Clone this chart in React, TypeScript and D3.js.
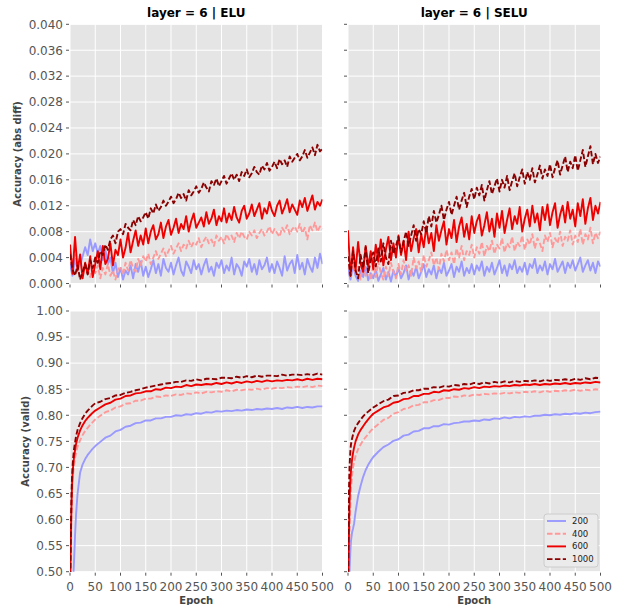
import React from 'react';
import * as d3 from 'd3';

// ---------- data ----------
const SERIES = ['200', '400', '600', '1000'];
const EPOCH_TICKS = [0, 50, 100, 150, 200, 250, 300, 350, 400, 450, 500];
const DIFF_TICKS = [0, 0.004, 0.008, 0.012, 0.016, 0.02, 0.024, 0.028, 0.032, 0.036, 0.04];
const VALID_TICKS = [0.5, 0.55, 0.6, 0.65, 0.7, 0.75, 0.8, 0.85, 0.9, 0.95, 1.0];

// epochs of the abs-diff series (every 5 epochs)
const EPOCHS_DIFF = d3.range(0, 501, 5);
// epochs of the validation accuracy series
const EPOCHS_VALID = [0, 1, 2, 3, 4, 5, 6, 8, 10, 12, 15, 20, 25, 30, 35, 40, 45, 50,
  60, 70, 80, 90, 100, 110, 120, 130, 140, 150, 160, 170, 180, 190, 200, 210, 220, 230, 240, 250,
  260, 270, 280, 290, 300, 310, 320, 330, 340, 350, 360, 370, 380, 390, 400, 410, 420, 430, 440, 450,
  460, 470, 480, 490, 500];

const ELU_DIFF_200 = [
 0.0030,0.0012,0.0038,0.0022,0.0028,0.0042,0.0056,0.0044,0.0068,0.0050,
 0.0062,0.0046,0.0058,0.0036,0.0052,0.0030,0.0040,0.0016,0.0032,0.0010,
 0.0024,0.0006,0.0020,0.0014,0.0028,0.0008,0.0030,0.0018,0.0034,0.0012,
 0.0026,0.0010,0.0022,0.0036,0.0016,0.0030,0.0012,0.0038,0.0024,0.0018,
 0.0032,0.0014,0.0028,0.0040,0.0020,0.0012,0.0034,0.0026,0.0016,0.0036,
 0.0022,0.0030,0.0014,0.0028,0.0038,0.0018,0.0026,0.0012,0.0032,0.0024,
 0.0036,0.0016,0.0028,0.0020,0.0040,0.0014,0.0030,0.0024,0.0012,0.0034,
 0.0026,0.0038,0.0018,0.0030,0.0014,0.0036,0.0022,0.0028,0.0040,0.0018,
 0.0030,0.0016,0.0034,0.0024,0.0012,0.0042,0.0020,0.0030,0.0036,0.0016,
 0.0044,0.0022,0.0032,0.0014,0.0038,0.0026,0.0018,0.0040,0.0024,0.0046,
 0.0030];
const ELU_DIFF_400 = [
 0.0050,0.0032,0.0044,0.0018,0.0036,0.0014,0.0030,0.0022,0.0010,0.0026,
 0.0016,0.0028,0.0008,0.0024,0.0014,0.0030,0.0012,0.0020,0.0006,0.0022,
 0.0026,0.0014,0.0032,0.0020,0.0036,0.0024,0.0018,0.0038,0.0028,0.0042,
 0.0034,0.0046,0.0030,0.0040,0.0050,0.0038,0.0046,0.0054,0.0042,0.0050,
 0.0058,0.0046,0.0054,0.0062,0.0050,0.0060,0.0054,0.0066,0.0056,0.0064,
 0.0060,0.0070,0.0056,0.0066,0.0072,0.0062,0.0068,0.0058,0.0074,0.0066,
 0.0072,0.0062,0.0076,0.0068,0.0074,0.0064,0.0078,0.0070,0.0080,0.0072,
 0.0068,0.0080,0.0074,0.0082,0.0070,0.0078,0.0084,0.0074,0.0080,0.0088,
 0.0076,0.0084,0.0078,0.0072,0.0086,0.0080,0.0090,0.0076,0.0084,0.0088,
 0.0080,0.0092,0.0078,0.0086,0.0068,0.0090,0.0082,0.0094,0.0080,0.0088,
 0.0084];
const ELU_DIFF_600 = [
 0.0060,0.0015,0.0072,0.0020,0.0045,0.0008,0.0032,0.0015,0.0042,0.0010,
 0.0030,0.0050,0.0022,0.0058,0.0030,0.0038,0.0062,0.0028,0.0052,0.0044,
 0.0068,0.0040,0.0055,0.0078,0.0048,0.0066,0.0082,0.0058,0.0074,0.0060,
 0.0085,0.0062,0.0080,0.0090,0.0068,0.0076,0.0094,0.0070,0.0088,0.0098,
 0.0075,0.0086,0.0100,0.0078,0.0092,0.0084,0.0104,0.0080,0.0096,0.0108,
 0.0086,0.0094,0.0102,0.0088,0.0110,0.0092,0.0100,0.0114,0.0090,0.0104,
 0.0096,0.0116,0.0094,0.0108,0.0098,0.0118,0.0102,0.0094,0.0112,0.0120,
 0.0100,0.0108,0.0122,0.0104,0.0114,0.0124,0.0100,0.0116,0.0108,0.0126,
 0.0112,0.0104,0.0120,0.0128,0.0108,0.0118,0.0130,0.0110,0.0122,0.0114,
 0.0106,0.0128,0.0118,0.0132,0.0112,0.0124,0.0136,0.0114,0.0126,0.0120,
 0.0130];
const ELU_DIFF_1000 = [
 0.0045,0.0022,0.0012,0.0028,0.0006,0.0018,0.0030,0.0014,0.0036,0.0024,
 0.0040,0.0032,0.0050,0.0044,0.0060,0.0052,0.0068,0.0074,0.0062,0.0080,
 0.0084,0.0076,0.0092,0.0086,0.0082,0.0098,0.0090,0.0104,0.0096,0.0102,
 0.0110,0.0100,0.0116,0.0108,0.0122,0.0112,0.0118,0.0128,0.0120,0.0126,
 0.0134,0.0124,0.0130,0.0140,0.0132,0.0138,0.0128,0.0144,0.0136,0.0142,
 0.0150,0.0140,0.0146,0.0156,0.0148,0.0142,0.0158,0.0152,0.0162,0.0150,
 0.0158,0.0166,0.0154,0.0162,0.0170,0.0160,0.0168,0.0158,0.0172,0.0166,
 0.0176,0.0164,0.0170,0.0180,0.0172,0.0168,0.0182,0.0176,0.0186,0.0174,
 0.0180,0.0188,0.0178,0.0192,0.0184,0.0190,0.0180,0.0196,0.0188,0.0194,
 0.0200,0.0190,0.0196,0.0206,0.0194,0.0202,0.0210,0.0198,0.0214,0.0204,
 0.0208];

const SELU_DIFF_200 = [
 0.0022,0.0006,0.0028,0.0012,0.0004,0.0020,0.0010,0.0026,0.0005,0.0016,
 0.0008,0.0022,0.0004,0.0014,0.0024,0.0006,0.0018,0.0003,0.0020,0.0010,
 0.0024,0.0008,0.0016,0.0028,0.0006,0.0020,0.0012,0.0026,0.0008,0.0018,
 0.0030,0.0010,0.0022,0.0014,0.0028,0.0008,0.0024,0.0016,0.0032,0.0012,
 0.0020,0.0030,0.0010,0.0026,0.0018,0.0034,0.0012,0.0024,0.0016,0.0030,
 0.0014,0.0028,0.0020,0.0034,0.0012,0.0026,0.0018,0.0032,0.0014,0.0024,
 0.0036,0.0016,0.0028,0.0012,0.0030,0.0022,0.0036,0.0016,0.0026,0.0018,
 0.0032,0.0014,0.0030,0.0024,0.0038,0.0016,0.0028,0.0020,0.0034,0.0014,
 0.0030,0.0022,0.0038,0.0018,0.0026,0.0034,0.0016,0.0032,0.0024,0.0036,
 0.0020,0.0030,0.0040,0.0018,0.0028,0.0036,0.0020,0.0032,0.0016,0.0034,
 0.0026];
const SELU_DIFF_400 = [
 0.0030,0.0008,0.0036,0.0014,0.0026,0.0006,0.0032,0.0012,0.0022,0.0005,
 0.0028,0.0010,0.0034,0.0016,0.0006,0.0026,0.0012,0.0032,0.0018,0.0008,
 0.0030,0.0014,0.0036,0.0020,0.0028,0.0012,0.0040,0.0024,0.0034,0.0018,
 0.0044,0.0026,0.0036,0.0048,0.0028,0.0040,0.0022,0.0046,0.0034,0.0052,
 0.0036,0.0048,0.0030,0.0054,0.0040,0.0058,0.0036,0.0050,0.0044,0.0060,
 0.0040,0.0056,0.0046,0.0064,0.0042,0.0058,0.0050,0.0066,0.0046,0.0060,
 0.0054,0.0070,0.0048,0.0062,0.0056,0.0072,0.0050,0.0064,0.0058,0.0074,
 0.0052,0.0068,0.0060,0.0076,0.0054,0.0070,0.0062,0.0050,0.0074,0.0064,
 0.0078,0.0056,0.0070,0.0062,0.0080,0.0058,0.0072,0.0066,0.0082,0.0060,
 0.0074,0.0064,0.0084,0.0060,0.0076,0.0068,0.0086,0.0062,0.0078,0.0070,
 0.0080];
const SELU_DIFF_600 = [
 0.0082,0.0012,0.0056,0.0020,0.0064,0.0030,0.0018,0.0058,0.0026,0.0050,
 0.0022,0.0060,0.0034,0.0068,0.0028,0.0052,0.0072,0.0036,0.0062,0.0040,
 0.0074,0.0044,0.0066,0.0036,0.0080,0.0050,0.0070,0.0084,0.0048,0.0076,
 0.0056,0.0088,0.0062,0.0078,0.0050,0.0090,0.0066,0.0082,0.0096,0.0060,
 0.0084,0.0070,0.0098,0.0064,0.0088,0.0102,0.0072,0.0092,0.0068,0.0104,
 0.0078,0.0096,0.0106,0.0074,0.0090,0.0110,0.0080,0.0100,0.0072,0.0108,
 0.0086,0.0112,0.0078,0.0098,0.0116,0.0084,0.0104,0.0092,0.0118,0.0080,
 0.0100,0.0114,0.0088,0.0120,0.0094,0.0108,0.0082,0.0118,0.0098,0.0122,
 0.0090,0.0110,0.0124,0.0086,0.0106,0.0120,0.0094,0.0126,0.0100,0.0114,
 0.0088,0.0124,0.0104,0.0130,0.0092,0.0116,0.0132,0.0098,0.0120,0.0108,
 0.0126];
const SELU_DIFF_1000 = [
 0.0042,0.0012,0.0050,0.0020,0.0008,0.0044,0.0024,0.0056,0.0016,0.0036,
 0.0048,0.0026,0.0054,0.0034,0.0062,0.0040,0.0030,0.0066,0.0046,0.0058,
 0.0072,0.0048,0.0064,0.0080,0.0058,0.0074,0.0090,0.0066,0.0084,0.0076,
 0.0096,0.0078,0.0104,0.0088,0.0112,0.0094,0.0106,0.0120,0.0098,0.0114,
 0.0126,0.0106,0.0120,0.0134,0.0114,0.0128,0.0140,0.0118,0.0134,0.0146,
 0.0130,0.0148,0.0136,0.0152,0.0128,0.0144,0.0158,0.0138,0.0150,0.0162,
 0.0142,0.0160,0.0148,0.0166,0.0144,0.0158,0.0170,0.0150,0.0164,0.0176,
 0.0154,0.0172,0.0160,0.0178,0.0156,0.0168,0.0182,0.0162,0.0176,0.0166,
 0.0184,0.0164,0.0178,0.0190,0.0168,0.0182,0.0196,0.0172,0.0188,0.0178,
 0.0198,0.0174,0.0190,0.0206,0.0180,0.0196,0.0212,0.0184,0.0200,0.0186,
 0.0196];

const ELU_VALID_200 = [0.30,0.35,0.39,0.42,0.44,0.46,0.48,0.52,0.57,0.61,0.65,0.69,0.706,0.716,0.724,0.730,0.736,0.741,
 0.749,0.757,0.761,0.769,0.772,0.778,0.780,0.785,0.786,0.790,
 0.790,0.794,0.794,0.797,0.797,0.800,0.799,0.802,0.801,0.804,
 0.803,0.806,0.805,0.808,0.807,0.809,0.808,0.810,0.809,0.811,
 0.810,0.812,0.811,0.813,0.812,0.814,0.812,0.815,0.814,0.816,
 0.814,0.816,0.815,0.817,0.817];
const ELU_VALID_400 = [0.40,0.50,0.56,0.61,0.645,0.67,0.685,0.705,0.718,0.728,0.740,0.752,0.762,0.770,0.776,0.782,0.787,0.792,
 0.799,0.806,0.809,0.815,0.817,0.822,0.823,0.828,0.828,0.832,
 0.832,0.836,0.835,0.838,0.837,0.840,0.839,0.842,0.841,0.844,
 0.842,0.845,0.844,0.846,0.845,0.848,0.846,0.849,0.848,0.850,
 0.849,0.851,0.849,0.852,0.851,0.853,0.852,0.854,0.853,0.855,
 0.854,0.856,0.854,0.857,0.856];
const ELU_VALID_600 = [0.42,0.52,0.58,0.63,0.665,0.685,0.70,0.72,0.733,0.745,0.757,0.771,0.781,0.789,0.795,0.800,0.805,0.809,
 0.815,0.821,0.824,0.830,0.832,0.837,0.838,0.842,0.843,0.846,
 0.846,0.850,0.849,0.853,0.852,0.855,0.854,0.858,0.856,0.859,
 0.858,0.860,0.859,0.862,0.860,0.863,0.861,0.864,0.862,0.865,
 0.863,0.866,0.864,0.867,0.865,0.867,0.866,0.868,0.867,0.869,
 0.867,0.870,0.868,0.870,0.869];
const ELU_VALID_1000 = [0.40,0.52,0.60,0.65,0.68,0.70,0.715,0.735,0.748,0.760,0.772,0.785,0.795,0.803,0.809,0.814,0.819,0.823,
 0.826,0.831,0.833,0.838,0.839,0.843,0.845,0.848,0.850,0.853,
 0.855,0.857,0.859,0.861,0.862,0.864,0.864,0.867,0.866,0.869,
 0.867,0.870,0.870,0.869,0.872,0.872,0.871,0.874,0.872,0.875,
 0.873,0.876,0.874,0.876,0.876,0.875,0.878,0.876,0.878,0.878,
 0.877,0.879,0.877,0.880,0.878];

const SELU_VALID_200 = [0.35,0.42,0.47,0.50,0.525,0.545,0.56,0.575,0.583,0.592,0.615,0.645,0.665,0.682,0.695,0.705,0.713,0.720,
 0.730,0.739,0.744,0.751,0.754,0.761,0.763,0.769,0.770,0.775,
 0.775,0.779,0.779,0.783,0.782,0.785,0.786,0.788,0.788,0.790,
 0.789,0.792,0.791,0.794,0.793,0.796,0.794,0.797,0.796,0.798,
 0.797,0.799,0.799,0.801,0.800,0.802,0.801,0.803,0.802,0.804,
 0.803,0.805,0.804,0.806,0.807];
const SELU_VALID_400 = [0.38,0.46,0.52,0.57,0.61,0.64,0.66,0.685,0.70,0.71,0.722,0.735,0.744,0.752,0.758,0.764,0.770,0.775,
 0.783,0.791,0.795,0.803,0.806,0.812,0.814,0.819,0.820,0.825,
 0.825,0.829,0.829,0.833,0.833,0.836,0.835,0.838,0.837,0.840,
 0.839,0.841,0.840,0.842,0.841,0.843,0.842,0.844,0.843,0.845,
 0.844,0.846,0.844,0.847,0.845,0.847,0.846,0.848,0.847,0.849,
 0.847,0.849,0.848,0.850,0.849];
const SELU_VALID_600 = [0.40,0.50,0.58,0.63,0.66,0.68,0.695,0.715,0.728,0.738,0.750,0.763,0.772,0.779,0.786,0.792,0.798,0.803,
 0.809,0.815,0.818,0.824,0.826,0.831,0.832,0.837,0.837,0.841,
 0.841,0.845,0.844,0.848,0.847,0.850,0.849,0.852,0.851,0.854,
 0.852,0.855,0.854,0.856,0.855,0.857,0.856,0.858,0.857,0.859,
 0.858,0.860,0.858,0.860,0.859,0.861,0.860,0.862,0.860,0.862,
 0.861,0.863,0.862,0.864,0.863];
const SELU_VALID_1000 = [0.45,0.58,0.66,0.70,0.72,0.735,0.745,0.755,0.763,0.770,0.777,0.785,0.792,0.798,0.803,0.807,0.811,0.815,
 0.821,0.827,0.830,0.837,0.838,0.843,0.844,0.848,0.848,0.851,
 0.851,0.854,0.853,0.856,0.855,0.858,0.857,0.860,0.859,0.862,
 0.860,0.863,0.861,0.864,0.862,0.865,0.863,0.866,0.864,0.866,
 0.865,0.867,0.865,0.868,0.866,0.868,0.867,0.869,0.867,0.870,
 0.868,0.871,0.869,0.872,0.871];

const DIFF_DATA = [
  [ELU_DIFF_200, ELU_DIFF_400, ELU_DIFF_600, ELU_DIFF_1000],
  [SELU_DIFF_200, SELU_DIFF_400, SELU_DIFF_600, SELU_DIFF_1000],
];
const VALID_DATA = [
  [ELU_VALID_200, ELU_VALID_400, ELU_VALID_600, ELU_VALID_1000],
  [SELU_VALID_200, SELU_VALID_400, SELU_VALID_600, SELU_VALID_1000],
];
const COL_TITLES = ['layer = 6 | ELU', 'layer = 6 | SELU'];

// ---------- styles ----------
const W = 623, H = 605;
const FONT = 'DejaVu Sans';
const COLORS = ['#9999ff', '#ff9999', '#ee0000', '#8b0000'];
const DASHES = [null, '5.5,2.4', null, '5.5,2.4'];
const PANEL_BG = '#e5e5e5';
const TICK_COLOR = '#555555';

const COLS = [{ x0: 70, x1: 322.5 }, { x0: 348, x1: 600.5 }];
const ROWS = [
  { y0: 24.3, y1: 283.5, domain: [0, 0.04], ticks: DIFF_TICKS, fmt: d3.format('.3f'), label: 'Accuracy (abs diff)', labelX: 17 },
  { y0: 311, y1: 571.7, domain: [0.5, 1.0], ticks: VALID_TICKS, fmt: d3.format('.2f'), label: 'Accuracy (valid)', labelX: 25 },
];

export default function App() {
  const panels: any[] = [];
  ROWS.forEach((row, ri) => {
    COLS.forEach((col, ci) => {
      const x = d3.scaleLinear().domain([0, 500]).range([col.x0, col.x1]);
      const y = d3.scaleLinear().domain(row.domain).range([row.y1, row.y0]);
      const epochs = ri === 0 ? EPOCHS_DIFF : EPOCHS_VALID;
      const data = ri === 0 ? DIFF_DATA[ci] : VALID_DATA[ci];
      const line = d3.line<number>().x((_, i) => x(epochs[i])).y((d) => y(d));
      const clipId = `clip-${ri}-${ci}`;
      panels.push(
        <g key={clipId}>
          <defs>
            <clipPath id={clipId}>
              <rect x={col.x0} y={row.y0} width={col.x1 - col.x0} height={row.y1 - row.y0} />
            </clipPath>
          </defs>
          <rect x={col.x0} y={row.y0} width={col.x1 - col.x0} height={row.y1 - row.y0} fill={PANEL_BG} />
          {EPOCH_TICKS.map((t) => (
            <line key={'gx' + t} x1={x(t)} x2={x(t)} y1={row.y0} y2={row.y1} stroke="#ffffff" strokeWidth={1} />
          ))}
          {row.ticks.map((t) => (
            <line key={'gy' + t} x1={col.x0} x2={col.x1} y1={y(t)} y2={y(t)} stroke="#ffffff" strokeWidth={1} />
          ))}
          <g clipPath={`url(#${clipId})`}>
            {data.map((vals, si) => (
              <path key={si} d={line(vals) || ''} fill="none" stroke={COLORS[si]} strokeWidth={1.9}
                strokeDasharray={DASHES[si] || undefined} strokeLinejoin="round" />
            ))}
          </g>
          {EPOCH_TICKS.map((t) => (
            <line key={'tx' + t} x1={x(t)} x2={x(t)} y1={row.y1 + 1} y2={row.y1 + 4} stroke={TICK_COLOR} strokeWidth={1} />
          ))}
          {row.ticks.map((t) => (
            <line key={'ty' + t} x1={col.x0 - 4} x2={col.x0 - 1} y1={y(t)} y2={y(t)} stroke={TICK_COLOR} strokeWidth={1} />
          ))}
          {ci === 0 && row.ticks.map((t) => (
            <text key={'ly' + t} x={col.x0 - 7} y={y(t)} dy="0.36em" textAnchor="end" fontSize={12} fill={TICK_COLOR} fontFamily={FONT}>
              {row.fmt(t)}
            </text>
          ))}
          {ri === 1 && EPOCH_TICKS.map((t) => (
            <text key={'lx' + t} x={x(t)} y={row.y1 + 19.5} textAnchor="middle" fontSize={12} fill={TICK_COLOR} fontFamily={FONT}>
              {t}
            </text>
          ))}
          {ri === 0 && (
            <text x={(col.x0 + col.x1) / 2} y={16.5} textAnchor="middle" fontSize={12} fontWeight="bold" fill="#000" fontFamily={FONT}>
              {COL_TITLES[ci]}
            </text>
          )}
          {ri === 1 && (
            <text x={(col.x0 + col.x1) / 2} y={604} textAnchor="middle" fontSize={10} fontWeight="bold" fill="#444" fontFamily={FONT}>
              Epoch
            </text>
          )}
          {ci === 0 && (
            <text transform={`translate(${row.labelX + 3.6},${(row.y0 + row.y1) / 2}) rotate(-90)`} textAnchor="middle"
              fontSize={10} fontWeight="bold" fill="#444" fontFamily={FONT}>
              {row.label}
            </text>
          )}
        </g>
      );
    });
  });

  const lgX = 544, lgY = 514;
  const legend = (
    <g>
      <rect x={lgX} y={lgY} width={54} height={53} rx={3} fill="#ebebeb" stroke="#cccccc" strokeWidth={1} />
      {SERIES.map((s, i) => {
        const yy = lgY + 7 + i * 12.7;
        return (
          <g key={s}>
            <line x1={lgX + 3} x2={lgX + 22} y1={yy} y2={yy} stroke={COLORS[i]} strokeWidth={1.9} strokeDasharray={DASHES[i] || undefined} />
            <text x={lgX + 28} y={yy} dy="0.35em" fontSize={8.5} fill="#222" fontFamily={FONT}>{s}</text>
          </g>
        );
      })}
    </g>
  );

  return (
    <svg width={W} height={H} style={{ position: 'absolute', left: 0, top: 0, background: '#fff' }}>
      <rect x={0} y={0} width={W} height={H} fill="#fff" />
      {panels}
      {legend}
    </svg>
  );
}
